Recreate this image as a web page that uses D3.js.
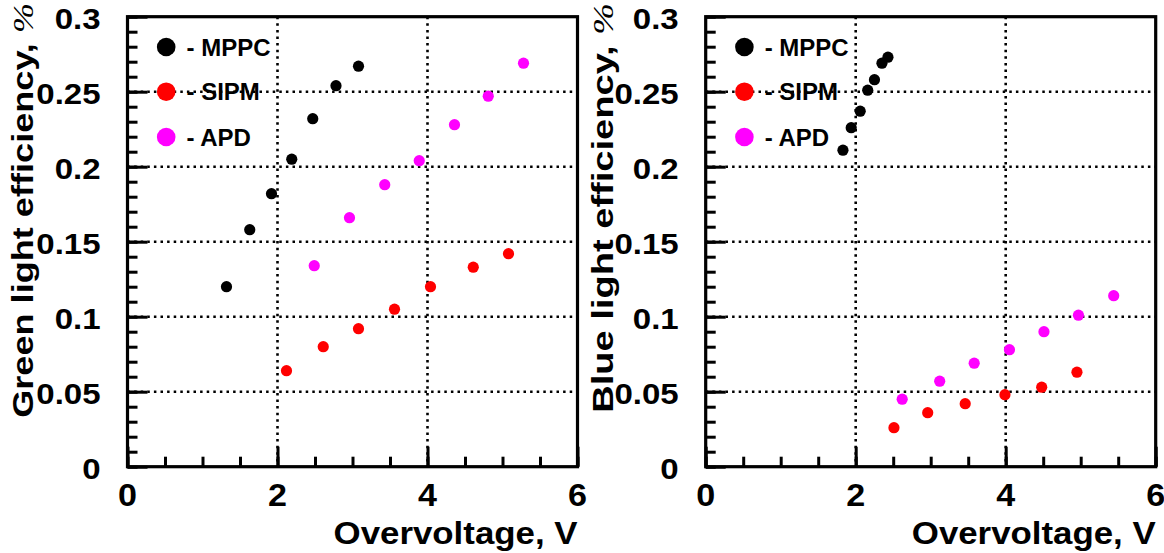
<!DOCTYPE html>
<html><head><meta charset="utf-8">
<script src="https://cdn.jsdelivr.net/npm/d3@7"></script>
<style>body{margin:0;background:#fff}svg{display:block}</style>
</head><body>
<script>
// ---------- data ----------
const seriesNames = ["MPPC", "SIPM", "APD"];
const seriesColors = ["#000000", "#ff0000", "#ff00ff"];

const greenMPPC = [[1.32,0.120],[1.63,0.158],[1.92,0.182],[2.19,0.205],[2.47,0.232],[2.78,0.254],[3.08,0.267]];
const greenSIPM = [[2.12,0.064],[2.61,0.080],[3.08,0.092],[3.56,0.105],[4.04,0.120],[4.61,0.133],[5.08,0.142]];
const greenAPD  = [[2.49,0.134],[2.96,0.166],[3.43,0.188],[3.89,0.204],[4.36,0.228],[4.81,0.247],[5.28,0.269]];

const blueMPPC = [[1.83,0.211],[1.94,0.226],[2.06,0.237],[2.16,0.251],[2.25,0.258],[2.35,0.269],[2.43,0.273]];
const blueSIPM = [[2.51,0.026],[2.96,0.036],[3.46,0.042],[3.99,0.048],[4.48,0.053],[4.95,0.063]];
const blueAPD  = [[2.62,0.045],[3.12,0.057],[3.58,0.069],[4.05,0.078],[4.51,0.090],[4.97,0.101],[5.44,0.114]];

const xDomain = [0, 6];
const yDomain = [0, 0.3];
const xMajor = [0, 2, 4, 6];
const xMinor = d3.range(0, 6.01, 0.5);
const xTickLabels = ["0", "2", "4", "6"];
const yMajor = [0, 0.05, 0.1, 0.15, 0.2, 0.25, 0.3];
const yMinor = d3.range(0, 0.3001, 0.01);
const yTickLabels = ["0", "0.05", "0.1", "0.15", "0.2", "0.25", "0.3"];
const xGrid = [2, 4];
const yGrid = [0.05, 0.1, 0.15, 0.2, 0.25];

const xTitle = "Overvoltage, V";
const yTitles = ["Green light efficiency, ", "Blue light efficiency, "];

// ---------- layout ----------
const W = 1164, H = 553;
const FONT = "'Liberation Sans', Arial, Helvetica, sans-serif";
const svg = d3.select("body").append("svg").attr("width", W).attr("height", H);
const plotTop = 16.7, plotBottom = 466.7;

function stretch(sel, target) {
  const n = sel.node().getComputedTextLength();
  return target / n;
}

function panel(left, right, yTitle, yTitleBase, yTitleLen, series) {
  const x = d3.scaleLinear().domain(xDomain).range([left, right]);
  const y = d3.scaleLinear().domain(yDomain).range([plotBottom, plotTop]);
  const g = svg.append("g");

  // grid (dotted)
  g.selectAll(null).data(yGrid).join("line")
    .attr("x1", left).attr("x2", right)
    .attr("y1", d => y(d)).attr("y2", d => y(d))
    .attr("stroke", "#000").attr("stroke-width", 2.6).attr("stroke-dasharray", "2.5,4.1");
  g.selectAll(null).data(xGrid).join("line")
    .attr("y1", plotTop).attr("y2", plotBottom)
    .attr("x1", d => x(d)).attr("x2", d => x(d))
    .attr("stroke", "#000").attr("stroke-width", 2.6).attr("stroke-dasharray", "2.5,4.1");

  // ticks (inside)
  const tk = (axis) => (s) => { s.call(axis); s.select(".domain").remove(); s.selectAll("line").attr("stroke-width", 3); };
  g.append("g").attr("transform", `translate(${left},0)`)
    .call(tk(d3.axisRight(y).tickValues(yMinor).tickSize(10).tickFormat("")));
  g.append("g").attr("transform", `translate(${left},0)`)
    .call(tk(d3.axisRight(y).tickValues(yMajor).tickSize(20).tickFormat("")));
  g.append("g").attr("transform", `translate(0,${plotBottom})`)
    .call(tk(d3.axisTop(x).tickValues(xMinor).tickSize(10).tickFormat("")));
  g.append("g").attr("transform", `translate(0,${plotBottom})`)
    .call(tk(d3.axisTop(x).tickValues(xMajor).tickSize(20).tickFormat("")));

  // frame
  g.append("rect").attr("x", left).attr("y", plotTop)
    .attr("width", right - left).attr("height", plotBottom - plotTop)
    .attr("fill", "none").attr("stroke", "#000").attr("stroke-width", 3.2);

  // tick labels
  g.selectAll(null).data(yMajor).join("text")
    .attr("transform", (d) => `translate(${left - 27},${y(d) + 12.5}) scale(1.1,1)`)
    .attr("text-anchor", "end").attr("font-family", FONT).attr("font-weight", "bold")
    .attr("font-size", 30).text((d, i) => yTickLabels[i]);
  g.selectAll(null).data(xMajor).join("text")
    .attr("transform", (d) => `translate(${x(d)},${plotBottom + 39.5}) scale(1.1,1)`)
    .attr("text-anchor", "middle").attr("font-family", FONT).attr("font-weight", "bold")
    .attr("font-size", 31).text((d, i) => xTickLabels[i]);

  // x title
  const xt = g.append("text").attr("text-anchor", "end").attr("font-family", FONT)
    .attr("font-weight", "bold").attr("font-size", 32).text(xTitle);
  const kx = stretch(xt, 244);
  xt.attr("transform", `translate(${right},544) scale(${kx},1)`);

  // y title
  const yt = g.append("text").attr("text-anchor", "end").attr("font-family", FONT)
    .attr("font-weight", "bold").attr("font-size", 29);
  yt.append("tspan").text(yTitle);
  yt.append("tspan").attr("font-family", "'Liberation Serif', 'Times New Roman', serif")
    .attr("font-weight", "normal").attr("font-style", "italic").text("%");
  const ky = stretch(yt, yTitleLen);
  yt.attr("transform", `translate(${yTitleBase},3) rotate(-90) scale(${ky},1)`);

  // legend
  const legY = [47, 91.7, 137];
  seriesNames.forEach((name, i) => {
    g.append("circle").attr("cx", left + 38.7).attr("cy", legY[i]).attr("r", 9.3).attr("fill", seriesColors[i]);
    g.append("text").attr("x", left + 59).attr("y", legY[i] + 8.5)
      .attr("font-family", FONT).attr("font-weight", "bold").attr("font-size", 24)
      .text("- " + name);
  });

  // data points
  series.forEach((pts, i) => {
    g.selectAll(null).data(pts).join("circle")
      .attr("cx", d => x(d[0])).attr("cy", d => y(d[1])).attr("r", 5.6)
      .attr("fill", seriesColors[i]);
  });
}

panel(127.5, 577.5, yTitles[0], 33.3, 415, [greenMPPC, greenSIPM, greenAPD]);
panel(705.7, 1155.7, yTitles[1], 613.3, 410, [blueMPPC, blueSIPM, blueAPD]);
</script>
</body></html>
